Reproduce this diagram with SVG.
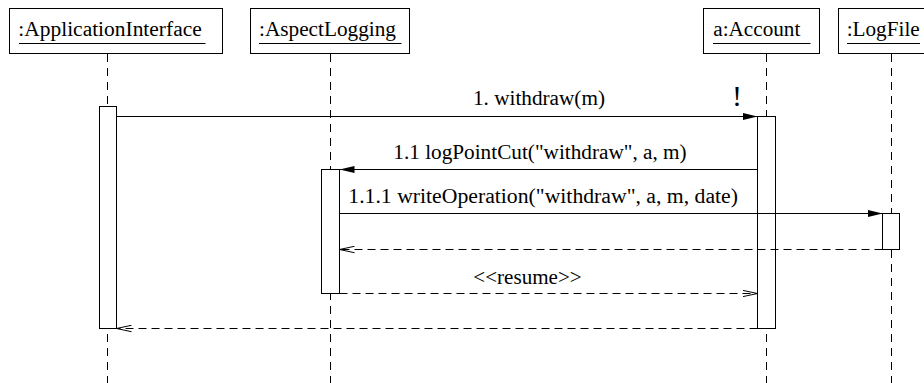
<svg xmlns="http://www.w3.org/2000/svg" width="924" height="383" viewBox="0 0 924 383">
<style>
.box{fill:#fff;stroke:#000;stroke-width:1}
.t{font-family:"Liberation Serif","Times New Roman",serif;font-size:20px;fill:#000}
.life{stroke:#000;stroke-width:1;stroke-dasharray:8,6;fill:none}
.msg{stroke:#000;stroke-width:1;fill:none}
.ret{stroke:#000;stroke-width:1;stroke-dasharray:8,5;fill:none}
.act{fill:#fff;stroke:#000;stroke-width:1}
.ul{stroke:#000;stroke-width:1.2}
</style>
<defs>
<marker id="filled" markerWidth="16" markerHeight="8" refX="15" refY="4" orient="auto" markerUnits="userSpaceOnUse">
<polygon points="0,0.5 15,4 0,7.5" fill="#000"/>
</marker>
<marker id="open" markerWidth="16" markerHeight="8" refX="15" refY="4" orient="auto" markerUnits="userSpaceOnUse">
<polyline points="0,0.8 15,4 0,7.2" fill="none" stroke="#000" stroke-width="1"/>
</marker>
</defs>
<g id="lifelines">
<line class="life" x1="107.5" y1="54" x2="107.5" y2="383"/>
<line class="life" x1="330.5" y1="54" x2="330.5" y2="383"/>
<line class="life" x1="766.5" y1="54" x2="766.5" y2="383"/>
<line class="life" x1="891.5" y1="54" x2="891.5" y2="383"/>
</g>
<g id="ApplicationInterface">
<rect class="box" x="9.5" y="8.5" width="213" height="45"/>
<text class="t" x="18.3" y="36" textLength="183.4" lengthAdjust="spacingAndGlyphs">:ApplicationInterface</text>
<line class="ul" x1="19" y1="43.5" x2="205.5" y2="43.5"/>
<rect class="act" x="99.5" y="106.5" width="17" height="222"/>
</g>
<g id="AspectLogging">
<rect class="box" x="250.5" y="8.5" width="159" height="45"/>
<text class="t" x="259" y="36" textLength="137" lengthAdjust="spacingAndGlyphs">:AspectLogging</text>
<line class="ul" x1="259" y1="43.5" x2="401.5" y2="43.5"/>
<rect class="act" x="321.5" y="169.5" width="18" height="124"/>
</g>
<g id="Account">
<rect class="box" x="703.5" y="8.5" width="116" height="45"/>
<text class="t" x="713.3" y="36" textLength="87" lengthAdjust="spacingAndGlyphs">a:Account</text>
<line class="ul" x1="713" y1="43.5" x2="810.5" y2="43.5"/>
<rect class="act" x="757.5" y="116.5" width="18" height="212"/>
</g>
<g id="LogFile">
<rect class="box" x="838.5" y="8.5" width="100" height="45"/>
<text class="t" x="846.7" y="36" textLength="73" lengthAdjust="spacingAndGlyphs">:LogFile</text>
<line class="ul" x1="847" y1="43.5" x2="920" y2="43.5"/>
<rect class="act" x="882.5" y="213.5" width="17" height="36"/>
</g>
<g id="connectors">
<line class="msg" x1="116.5" y1="116.5" x2="757.5" y2="116.5" marker-end="url(#filled)"/>
<text class="t" x="473" y="105" textLength="132" lengthAdjust="spacingAndGlyphs">1. withdraw(m)</text>
<text class="t" x="737" y="106" text-anchor="middle" style="font-size:30px">!</text>
<line class="msg" x1="757.5" y1="169.5" x2="339.5" y2="169.5" marker-end="url(#filled)"/>
<text class="t" x="393.3" y="159" textLength="293.4" lengthAdjust="spacingAndGlyphs">1.1 logPointCut("withdraw", a, m)</text>
<line class="msg" x1="339.5" y1="213.5" x2="882.5" y2="213.5" marker-end="url(#filled)"/>
<text class="t" x="348.3" y="203" textLength="389.7" lengthAdjust="spacingAndGlyphs">1.1.1 writeOperation("withdraw", a, m, date)</text>
<line class="ret" x1="882.5" y1="249.5" x2="339.5" y2="249.5" marker-end="url(#open)"/>
<line class="ret" x1="339.5" y1="293.5" x2="757.5" y2="293.5" marker-end="url(#open)"/>
<text class="t" x="473.3" y="284" textLength="108.4" lengthAdjust="spacingAndGlyphs">&lt;&lt;resume&gt;&gt;</text>
<line class="ret" x1="757.5" y1="328.5" x2="116.5" y2="328.5" marker-end="url(#open)"/>
</g>
</svg>
